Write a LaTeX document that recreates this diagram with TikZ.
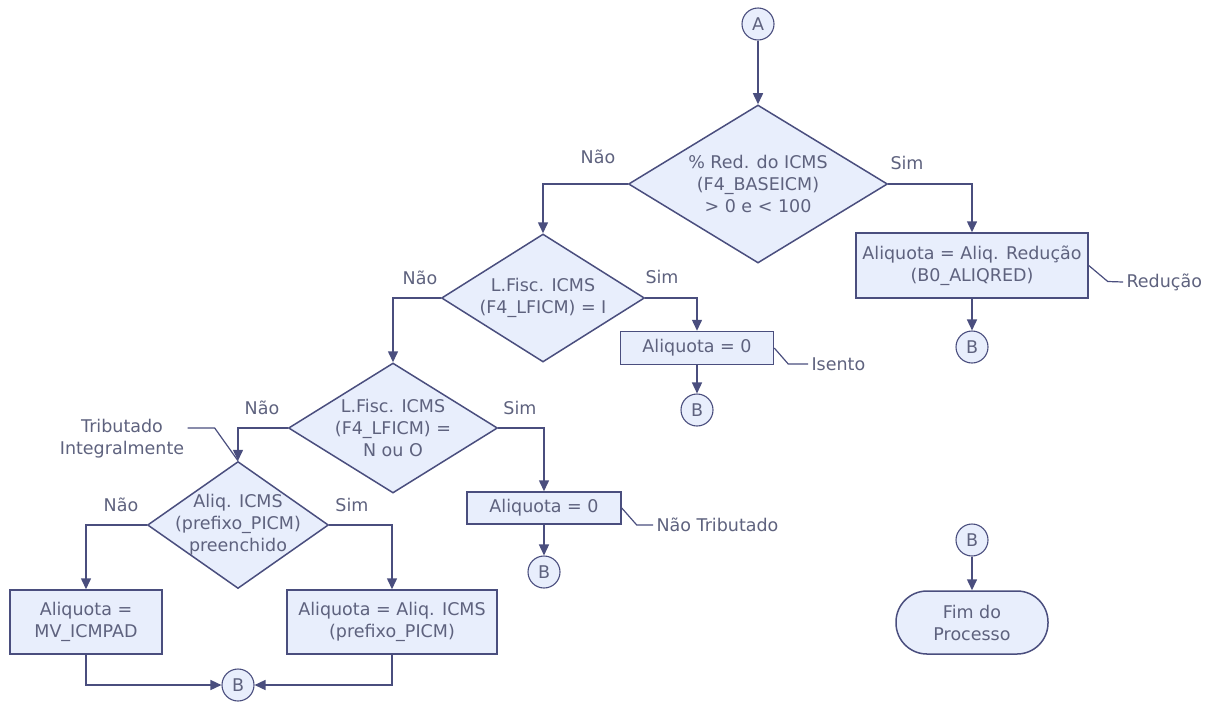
\documentclass[tikz,border=0pt]{standalone}
\usepackage{fontspec}
\setmainfont{DejaVu Sans}
\usetikzlibrary{shapes.geometric,arrows.meta}
\definecolor{flowline}{HTML}{4A4E7E}
\definecolor{flowfill}{HTML}{E8EEFC}
\definecolor{flowtext}{HTML}{5E627E}
\newcommand\chartfont{\fontsize{17.5}{22}\selectfont}
\begin{document}
\begin{tikzpicture}[x=1pt,y=-1pt,
  >={Triangle[length=11pt,width=10pt]},
  every node/.style={font=\chartfont,text=flowtext},
  proc/.style={rectangle,draw=flowline,fill=flowfill,line width=1.5pt,align=center,inner sep=0pt},
  decision/.style={diamond,draw=flowline,fill=flowfill,line width=1.5pt,inner sep=0pt},
  conn/.style={circle,draw=flowline,fill=flowfill,line width=1.1pt,minimum size=32pt,inner sep=0pt},
  term/.style={rectangle,rounded corners=31pt,draw=flowline,fill=flowfill,line width=1.5pt,align=center,inner sep=0pt},
  flow/.style={draw=flowline,line width=1.5pt,->},
  note/.style={draw=flowline,line width=1.2pt},
  lbl/.style={align=center}]
\useasboundingbox (0,0) rectangle (1217,702);

% decisoes
\node[conn] (A) at (758,24) {A};
\node[decision,minimum width=259pt,minimum height=158pt,
  label={[lbl]center:{\% Red. do ICMS\\(F4\_BASEICM)\\> 0 e < 100}}] (d1) at (758,184) {};
\node[decision,minimum width=203pt,minimum height=128pt,
  label={[lbl]center:{L.Fisc. ICMS\\(F4\_LFICM) = I}}] (d2) at (543,298) {};
\node[decision,minimum width=209pt,minimum height=130pt,
  label={[lbl]center:{L.Fisc. ICMS\\(F4\_LFICM) =\\N ou O}}] (d3) at (393,428) {};
\node[decision,minimum width=181pt,minimum height=127pt,
  label={[lbl]center:{Aliq. ICMS\\(prefixo\_PICM)\\preenchido}}] (d4) at (238,525) {};

% processos
\node[proc,minimum width=232pt,minimum height=65pt] (red) at (972,265.5) {Aliquota = Aliq. Redução\\(B0\_ALIQRED)};
\node[proc,minimum width=153pt,minimum height=33pt] (iso) at (697,348) {Aliquota = 0};
\node[proc,minimum width=154pt,minimum height=32pt] (ntr) at (544,508) {Aliquota = 0};
\node[proc,minimum width=152pt,minimum height=64pt] (mv) at (86,622) {Aliquota =\\MV\_ICMPAD};
\node[proc,minimum width=210pt,minimum height=64pt] (picm) at (392,622) {Aliquota = Aliq. ICMS\\(prefixo\_PICM)};

% conectores B
\node[conn] (B1) at (972,347) {B};
\node[conn] (B2) at (697,410) {B};
\node[conn] (B3) at (544,572) {B};
\node[conn] (B4) at (238,685) {B};
\node[conn] (B5) at (972,540) {B};
\node[term,minimum width=152pt,minimum height=63pt] (fim) at (972,622.5) {Fim do\\Processo};

% rotulos
\node (d1no) at (598,157) {Não};
\node (d1yes) at (907,163) {Sim};
\node (d2no) at (420,278) {Não};
\node (d2yes) at (662,277) {Sim};
\node (d3no) at (262,408) {Não};
\node (d3yes) at (520,408) {Sim};
\node (d4no) at (121,505) {Não};
\node (d4yes) at (352,505) {Sim};

\node[anchor=west] (redn) at (1123,282) {Redução};
\node[anchor=west] (isen) at (808,364) {Isento};
\node[anchor=west] (ntrn) at (653,525) {Não Tributado};
\node[lbl] (trib) at (122,439) {Tributado\\Integralmente};

% fluxo
\draw[flow] (A) -- (d1);
\draw[flow] (d1.west) -| (d2.north);
\draw[flow] (d1.east) -| (red.north);
\draw[flow] (red) -- (B1);
\draw[flow] (d2.east) -| (iso.north);
\draw[flow] (iso) -- (B2);
\draw[flow] (d2.west) -| (d3.north);
\draw[flow] (d3.east) -| (ntr.north);
\draw[flow] (ntr) -- (B3);
\draw[flow] (d3.west) -| (d4.north);
\draw[flow] (d4.west) -| (mv.north);
\draw[flow] (d4.east) -| (picm.north);
\draw[flow] (mv.south) |- (B4.west);
\draw[flow] (picm.south) |- (B4.east);
\draw[flow] (B5) -- (fim);

% notas
\draw[note] (red.east) -- ++(19,16) -- (redn.west);
\draw[note] (iso.east) -- ++(14,16) -- (isen.west);
\draw[note] (ntr.east) -- ++(15,17) -- (ntrn.west);
\draw[note] (trib.east |- d3.west) -- ++(27,0) -- (d4.north);

\end{tikzpicture}
\end{document}
